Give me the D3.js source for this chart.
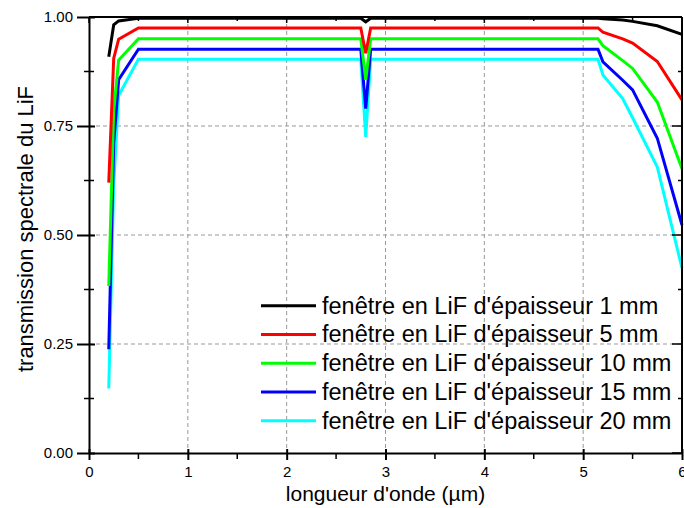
<!DOCTYPE html>
<html><head><meta charset="utf-8">
<script src="https://cdn.jsdelivr.net/npm/d3@7"></script>
<style>body{margin:0;background:#fff}svg{display:block}text{font-family:"Liberation Sans",Arial,sans-serif}</style>
</head><body>
<svg id="c" width="684" height="508"></svg>
<script>
const wavelength = [0.2, 0.25, 0.3, 0.5, 2.75, 2.8, 2.85, 5.15, 5.2, 5.4, 5.5, 5.75, 6.0];
const t1mm  = [0.909, 0.982, 0.991, 0.997, 0.997, 0.989, 0.997, 0.997, 0.996, 0.993, 0.990, 0.980, 0.960];
const t5mm  = [0.620, 0.905, 0.949, 0.975, 0.975, 0.917, 0.975, 0.975, 0.965, 0.950, 0.940, 0.898, 0.810];
const t10mm = [0.383, 0.784, 0.901, 0.950, 0.950, 0.856, 0.950, 0.950, 0.934, 0.900, 0.882, 0.805, 0.652];
const t15mm = [0.238, 0.710, 0.856, 0.926, 0.926, 0.790, 0.926, 0.926, 0.897, 0.855, 0.833, 0.722, 0.523];
const t20mm = [0.148, 0.616, 0.820, 0.903, 0.903, 0.725, 0.903, 0.903, 0.867, 0.813, 0.769, 0.656, 0.424];
const seriesNames = ["fenêtre en LiF d'épaisseur 1 mm","fenêtre en LiF d'épaisseur 5 mm","fenêtre en LiF d'épaisseur 10 mm","fenêtre en LiF d'épaisseur 15 mm","fenêtre en LiF d'épaisseur 20 mm"];
const seriesValues = [t1mm, t5mm, t10mm, t15mm, t20mm];
const colors = ["#000000","#ff0000","#00ff00","#0000ff","#00ffff"];
const xTicks = [0,1,2,3,4,5,6];
const yTicks = [0,0.25,0.5,0.75,1];
const xTitle = "longueur d'onde (µm)";
const yTitle = "transmission spectrale du LiF";

const svg = d3.select("#c");
const L=89,R=682,T=17,B=453;
const x = d3.scaleLinear().domain([0,6]).range([L,R]);
const y = d3.scaleLinear().domain([0,1]).range([B,T]);

// grid
const g = svg.append("g");
xTicks.filter(v=>v>0&&v<6).forEach(v=>g.append("line").attr("x1",x(v)).attr("x2",x(v)).attr("y1",T).attr("y2",B)
  .attr("stroke","#999").attr("stroke-width",1).attr("stroke-dasharray","4,3"));
yTicks.filter(v=>v>0&&v<1).forEach(v=>g.append("line").attr("x1",L).attr("x2",R).attr("y1",y(v)).attr("y2",y(v))
  .attr("stroke","#999").attr("stroke-width",1).attr("stroke-dasharray","4,3"));

// curves
const line = d3.line().x(d=>x(d[0])).y(d=>y(d[1]));
seriesValues.slice().reverse().forEach((vals,ri)=>{
  const i = seriesValues.length-1-ri;
  svg.append("path").datum(wavelength.map((w,k)=>[w,vals[k]])).attr("d",line)
    .attr("fill","none").attr("stroke",colors[i]).attr("stroke-width",3).attr("stroke-linejoin","miter");
});

// axes
const axB = d3.axisBottom(x).tickValues(xTicks).tickFormat(d3.format("d")).tickSizeInner(7).tickSizeOuter(0).tickPadding(6);
const axL = d3.axisLeft(y).tickValues(yTicks).tickFormat(d3.format(".2f")).tickSizeInner(12).tickSizeOuter(0).tickPadding(4);
const gb = svg.append("g").attr("transform",`translate(0,${B})`).call(axB);
const gl = svg.append("g").attr("transform",`translate(${L},0)`).call(axL);
[gb,gl].forEach(a=>{a.select(".domain").attr("stroke","#000").attr("stroke-width",2);
  a.selectAll(".tick line").attr("stroke","#000").attr("stroke-width",2);
  a.selectAll("text").attr("font-size",15).attr("fill","#000").attr("font-family","Liberation Sans, Arial, sans-serif");});
gl.selectAll(".tick line").attr("x2",6).attr("x1",-12);
gb.selectAll(".tick line").attr("y1",-4);
// minor ticks
d3.range(0.5,6,1).forEach(v=>svg.append("line").attr("x1",x(v)).attr("x2",x(v)).attr("y1",B).attr("y2",B+6).attr("stroke","#000").attr("stroke-width",1.5));
d3.range(0.125,1,0.25).forEach(v=>svg.append("line").attr("x1",L-5).attr("x2",L+5).attr("y1",y(v)).attr("y2",y(v)).attr("stroke","#000").attr("stroke-width",1.5));
// top & right axes
svg.append("line").attr("x1",L).attr("x2",R).attr("y1",T).attr("y2",T).attr("stroke","#000").attr("stroke-width",2);
svg.append("line").attr("x1",R).attr("x2",R).attr("y1",T).attr("y2",B).attr("stroke","#000").attr("stroke-width",2);
d3.range(0,6.01,0.5).forEach((v,k)=>svg.append("line").attr("x1",x(v)).attr("x2",x(v)).attr("y1",T).attr("y2",T+(k%2?4:6)).attr("stroke","#000").attr("stroke-width",1.5));
d3.range(0,1.01,0.125).forEach((v,k)=>svg.append("line").attr("x1",R).attr("x2",R-(k%2?4:10)).attr("y1",y(v)).attr("y2",y(v)).attr("stroke","#000").attr("stroke-width",1.5));

// titles
svg.append("text").attr("x",(L+R)/2).attr("y",501).attr("text-anchor","middle").attr("font-size",21).text(xTitle);
svg.append("text").attr("transform","translate(33,229) rotate(-90)").attr("text-anchor","middle").attr("font-size",22).text(yTitle);

// legend
seriesNames.forEach((n,i)=>{
  const yy = 305.7 + i*28.75;
  svg.append("line").attr("x1",261).attr("x2",316).attr("y1",yy).attr("y2",yy).attr("stroke",colors[i]).attr("stroke-width",3);
  svg.append("text").attr("x",322).attr("y",yy+8).attr("font-size",23.5).text(n);
});
</script>
</body></html>
